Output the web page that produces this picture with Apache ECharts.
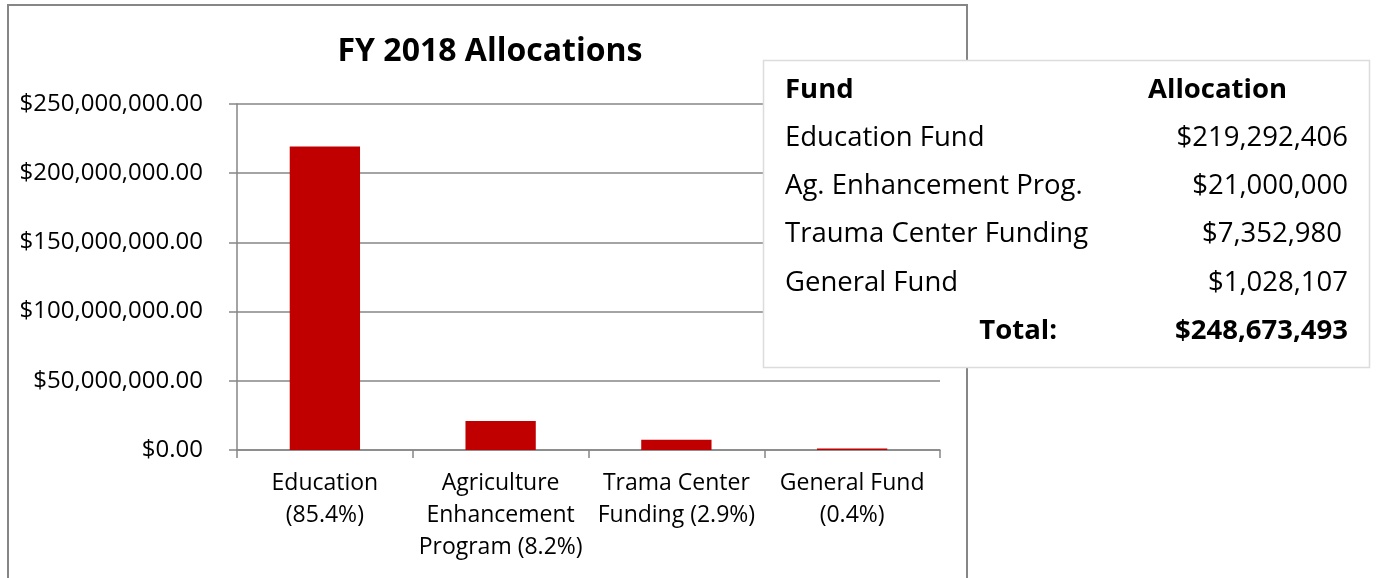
<!DOCTYPE html>
<html>
<head>
<meta charset="utf-8">
<title>FY 2018 Allocations</title>
<script src="https://cdn.jsdelivr.net/npm/echarts@6/dist/echarts.min.js"></script>
<style>
    html, body { margin: 0; padding: 0; background: #fff; }
    #chartBox { width: 1377px; height: 578px; }
</style>
</head>
<body>
<div id="chartBox"></div>
<script>
// 柱状图数据
let categories = ['Education\n(85.4%)', 'Agriculture\nEnhancement\nProgram (8.2%)', 'Trama Center\nFunding (2.9%)', 'General Fund\n(0.4%)'];
let allocations = [219292406, 21000000, 7352980, 1028107];

// 右侧表格
let tableHeader = ['Fund', 'Allocation'];
let tableFunds = ['Education Fund', 'Ag. Enhancement Prog.', 'Trauma Center Funding', 'General Fund'];
let tableAmounts = ['$219,292,406', '$21,000,000', '$7,352,980', '$1,028,107'];
let totalLabel = 'Total:';
let totalAmount = '$248,673,493';

let font = '"Open Sans", "Liberation Sans", sans-serif';

function money(v) {
    return '$' + v.toLocaleString('en-US', {minimumFractionDigits: 2, maximumFractionDigits: 2});
}

function cell(text, x, y, align, bold) {
    return {
        type: 'text', x: x, y: y, z: 102,
        style: {
            text: text, textAlign: align, textVerticalAlign: 'middle',
            font: (bold ? 'bold ' : '') + '27.5px ' + font, fill: '#000'
        }
    };
}

let chartBox = echarts.init(document.getElementById('chartBox'));

// 表格文字
let tableTexts = [];
tableTexts.push(cell(tableHeader[0], 785, 90, 'left', true));
tableTexts.push(cell(tableHeader[1], 1287, 90, 'right', true));
tableFunds.forEach(function (name, i) {
    let y = 138 + i * 48.3;
    tableTexts.push(cell(name, 785, y, 'left', false));
    tableTexts.push(cell(tableAmounts[i], i === 2 ? 1342 : 1348, y, 'right', false));
});
tableTexts.push(cell(totalLabel, 1057, 331, 'right', true));
tableTexts.push(cell(totalAmount, 1348, 331, 'right', true));

let option = {
    animation: false,
    backgroundColor: '#fff',
    title: {
        text: 'FY 2018 Allocations', left: 485, top: 31, textAlign: 'center',
        textStyle: {fontFamily: font, fontSize: 32, fontWeight: 'bold', color: '#000'}
    },
    grid: {left: 237, right: 1377 - 940, top: 104, bottom: 578 - 450},
    xAxis: {
        type: 'category', data: categories,
        axisLine: {lineStyle: {color: '#868686', width: 1.5}},
        axisTick: {show: true, length: 8, lineStyle: {color: '#868686', width: 1.5}},
        axisLabel: {fontFamily: font, fontSize: 23, color: '#000', lineHeight: 32, margin: 17, interval: 0}
    },
    yAxis: {
        type: 'value', min: 0, max: 250000000, interval: 50000000,
        axisLine: {show: true, lineStyle: {color: '#868686', width: 1.5}},
        axisTick: {show: true, length: 8, lineStyle: {color: '#868686', width: 1.5}},
        splitLine: {show: true, lineStyle: {color: '#868686', width: 1.5}},
        axisLabel: {fontFamily: font, fontSize: 24, color: '#000', margin: 34, formatter: money}
    },
    series: [{
        type: 'bar', data: allocations, barWidth: '40%',
        itemStyle: {color: '#c00000'}
    }],
    graphic: [
        // 外框
        {type: 'polyline', shape: {points: [[8, 600], [8, 5], [967, 5], [967, 600]]}, style: {stroke: '#868686', lineWidth: 2, fill: null}, z: 100},
        // 表格背景
        {type: 'rect', shape: {x: 763.5, y: 60.5, width: 606, height: 307}, style: {fill: '#fff', stroke: '#dcdcdc', lineWidth: 1.5}, z: 101}
    ].concat(tableTexts)
};
chartBox.setOption(option, true);
</script>
</body>
</html>
